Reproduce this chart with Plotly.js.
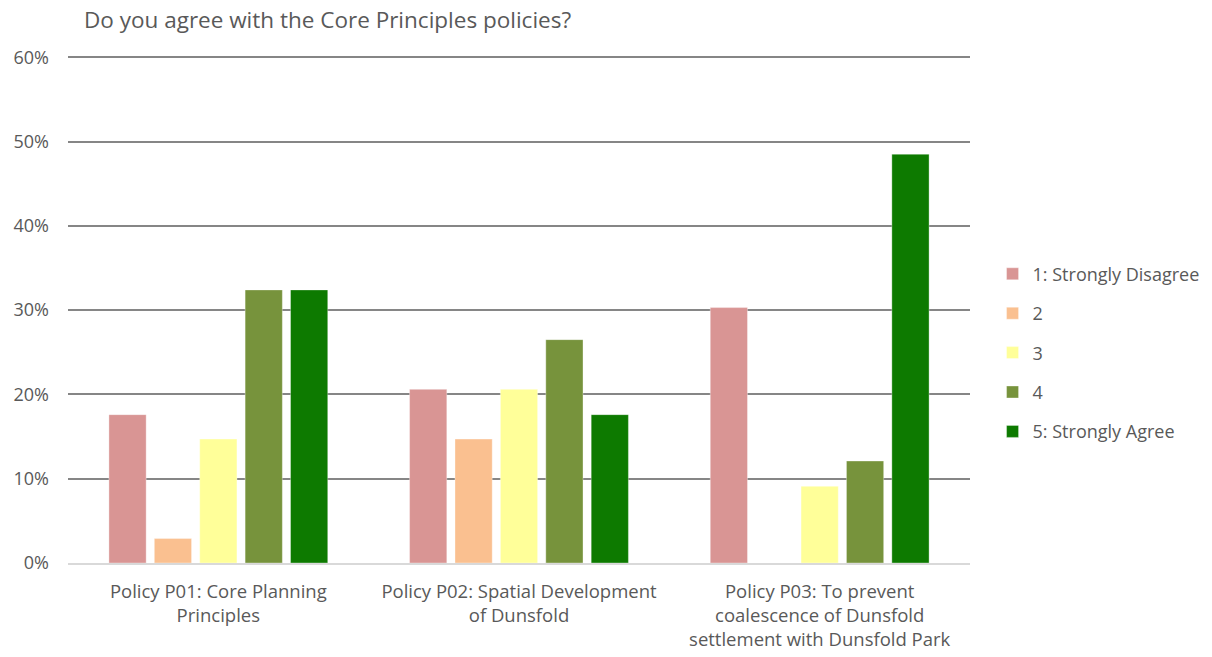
<!DOCTYPE html>
<html>
<head>
<meta charset="utf-8">
<script src="https://cdn.plot.ly/plotly-3.0.1.min.js"></script>
<style>html,body{margin:0;padding:0;background:#fff;}#chart{width:1212px;height:657px;}</style>
</head>
<body>
<div id="chart"></div>
<script>
const categories = [
  "Policy P01: Core Planning<br>Principles",
  "Policy P02: Spatial Development<br>of Dunsfold",
  "Policy P03: To prevent<br>coalescence of Dunsfold<br>settlement with Dunsfold Park"
];
const seriesNames = ["1: Strongly Disagree", "2", "3", "4", "5: Strongly Agree"];
const s1 = [17.6, 20.6, 30.3];
const s2 = [2.9, 14.7, 0];
const s3 = [14.7, 20.6, 9.1];
const s4 = [32.4, 26.5, 12.1];
const s5 = [32.4, 17.6, 48.5];
const yTicks = [0, 10, 20, 30, 40, 50, 60];
const colors = ["#d99594", "#fac090", "#ffff99", "#77933c", "#0d7a00"];

const seriesValues = [s1, s2, s3, s4, s5];
const font = "'Open Sans', sans-serif";
const traces = seriesValues.map((vals, i) => ({
  type: "bar",
  name: seriesNames[i],
  x: categories,
  y: vals,
  legendgroup: "g" + i,
  marker: { color: colors[i], line: { color: "rgba(255,255,255,0.35)", width: 1 } },
  hoverinfo: "none"
}));

const layout = {
  width: 1212,
  height: 657,
  paper_bgcolor: "#ffffff",
  plot_bgcolor: "#ffffff",
  margin: { l: 68, r: 242, t: 56, b: 94, autoexpand: false },
  font: { family: font, color: "#595959", size: 18 },
  title: {
    text: "Do you agree with the Core Principles policies?",
    font: { family: font, size: 22.5, color: "#595959" },
    xref: "container", yref: "container",
    x: 84 / 1212, xanchor: "left",
    y: 1 - 20 / 657, yanchor: "middle"
  },
  barmode: "group",
  bargap: 0.245,
  bargroupgap: 0.18,
  xaxis: {
    showgrid: false,
    showline: true,
    linecolor: "#d9d9d9",
    linewidth: 2,
    ticks: "",
    ticklabelstandoff: 11,
    tickfont: { family: font, size: 18.5, color: "#595959" },
    fixedrange: true
  },
  yaxis: {
    range: [0, 60.15],
    tickvals: yTicks,
    ticktext: yTicks.map(v => v + "%"),
    showgrid: true,
    gridcolor: "#868686",
    gridwidth: 2,
    zeroline: false,
    showline: false,
    ticks: "",
    ticklabelstandoff: 18,
    tickfont: { family: font, size: 18, color: "#595959" },
    fixedrange: true
  },
  legend: {
    x: 1.025, xanchor: "left",
    y: 0.415, yanchor: "middle",
    font: { family: font, size: 18, color: "#595959" },
    tracegroupgap: 13,
    itemwidth: 30,
    bgcolor: "rgba(0,0,0,0)"
  },
  showlegend: true
};

Plotly.newPlot("chart", traces, layout, { displayModeBar: false, staticPlot: true });
</script>
</body>
</html>
